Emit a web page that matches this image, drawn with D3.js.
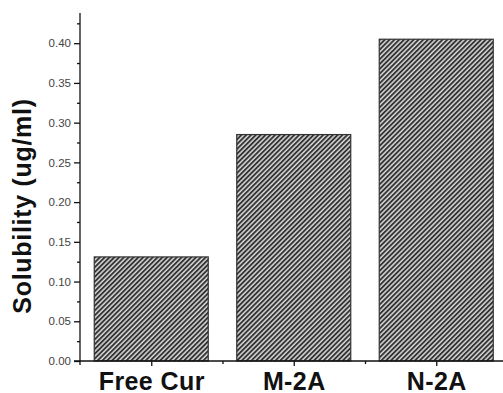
<!DOCTYPE html>
<html><head><meta charset="utf-8">
<script src="https://cdn.jsdelivr.net/npm/d3@7"></script>
<style>body{margin:0;background:#fff}svg{display:block}</style>
</head><body>
<script>
const categories = ["Free Cur", "M-2A", "N-2A"];
const solubility = [0.131, 0.285, 0.405];
const yTickValues = [0, 0.05, 0.10, 0.15, 0.20, 0.25, 0.30, 0.35, 0.40];
const yTitle = "Solubility (ug/ml)";

const W = 503, H = 393;
const svg = d3.select("body").append("svg").attr("width", W).attr("height", H);

const defs = svg.append("defs");
const pat = defs.append("pattern").attr("id", "hatch").attr("patternUnits", "userSpaceOnUse")
  .attr("width", 3.4).attr("height", 10).attr("patternTransform", "rotate(45)");
pat.append("rect").attr("width", 3.4).attr("height", 10).attr("fill", "#d8d8d8");
pat.append("line").attr("x1", 1).attr("x2", 1).attr("y1", 0).attr("y2", 10)
  .attr("stroke", "#2a2a2a").attr("stroke-width", 1.8);

const x = d3.scaleLinear().domain([0.5, 3.5]).range([80, 507.5]);
const y = d3.scaleLinear().domain([0, 0.438]).range([361, 13]);
const step = x(2) - x(1);
const bw = step * 0.8;

svg.append("g").selectAll("rect").data(solubility).join("rect")
  .attr("x", (d, i) => x(i + 1) - bw / 2)
  .attr("y", d => y(d))
  .attr("width", bw)
  .attr("height", d => y(0) - y(d))
  .attr("fill", "url(#hatch)")
  .attr("stroke", "#333").attr("stroke-width", 1.2);

// Y axis
const yMinor = d3.range(0.025, 0.438, 0.05);
const gy = svg.append("g").attr("transform", "translate(80,0)");
gy.call(d3.axisLeft(y).tickValues(yTickValues).tickFormat(d3.format(".2f")).tickSize(6).tickPadding(3));
gy.append("g").call(d3.axisLeft(y).tickValues(yMinor).tickFormat("").tickSize(3))
  .select(".domain").remove();
gy.selectAll(".domain").attr("d", `M0,${y(0.438)}V${y(0)+4}`);
gy.selectAll("line, path").attr("stroke", "#111").attr("stroke-width", 1.3);
gy.selectAll("text").attr("font-family", "Liberation Sans, Arial, sans-serif")
  .attr("font-size", 11.5).attr("fill", "#444");

// X axis
const gx = svg.append("g").attr("transform", `translate(0,${y(0)})`);
gx.call(d3.axisBottom(x).tickValues([1, 2, 3]).tickFormat((d) => categories[d - 1]).tickSize(5).tickPadding(9));
gx.append("g").call(d3.axisBottom(x).tickValues([1.5, 2.5]).tickFormat("").tickSize(3))
  .select(".domain").remove();
gx.selectAll(".domain").attr("d", `M${x(0.5)-6},0H${W}`);
gx.selectAll("line, path").attr("stroke", "#111").attr("stroke-width", 1.3);
gx.selectAll("text").attr("font-family", "Liberation Sans, Arial, sans-serif")
  .attr("font-size", 25).attr("font-weight", "bold").attr("fill", "#111")
  .attr("letter-spacing", 0.4)
  .attr("dy", null).attr("y", 29);

svg.append("text").attr("transform", "translate(31,206) rotate(-90)")
  .attr("text-anchor", "middle")
  .attr("font-family", "Liberation Sans, Arial, sans-serif")
  .attr("font-size", 25).attr("font-weight", "bold").attr("fill", "#111")
  .attr("letter-spacing", 0.7)
  .text(yTitle);
</script>
</body></html>
